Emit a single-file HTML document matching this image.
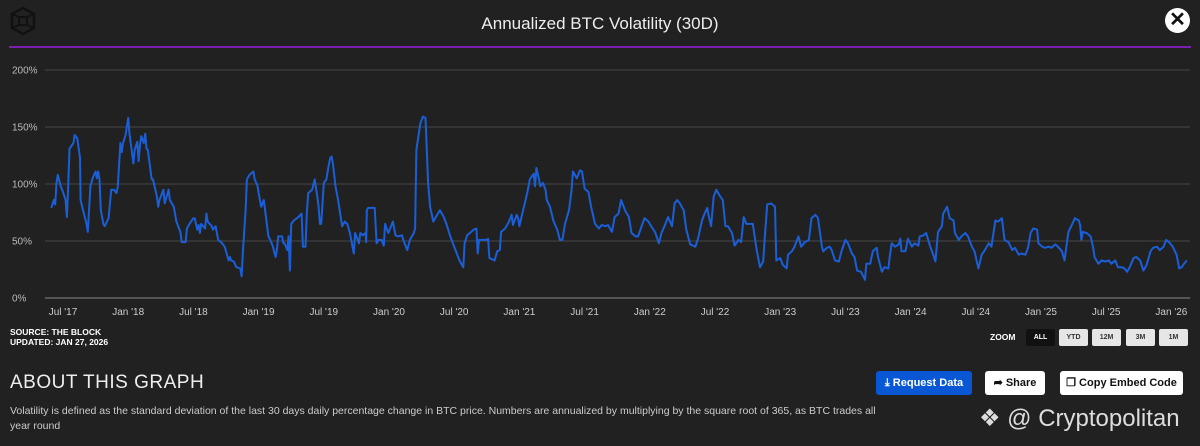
<!DOCTYPE html>
<html><head><meta charset="utf-8">
<style>
body{margin:0;width:1200px;height:446px;background:#212121;font-family:"Liberation Sans",sans-serif;overflow:hidden;position:relative;color:#fff}
.abs{position:absolute}
.zb{position:absolute;top:329px;height:17px;width:29px;background:#e6e6e6;color:#333;font-size:7px;font-weight:bold;text-align:center;line-height:17px;border-radius:2px}
.btn{position:absolute;top:371px;height:24px;border-radius:3px;font-size:11px;font-weight:bold;line-height:24px;text-align:center}
</style></head><body>
<svg class="abs" style="left:10px;top:6px" width="26" height="30" viewBox="0 0 26 30"><polygon points="13,2 24,8 24,22 13,28 2,22 2,8" fill="none" stroke="#111" stroke-width="2.5"/><rect x="9" y="11" width="8" height="8" fill="none" stroke="#111" stroke-width="2"/><line x1="2" y1="8" x2="9" y2="11" stroke="#111" stroke-width="2"/><line x1="24" y1="8" x2="17" y2="11" stroke="#111" stroke-width="2"/><line x1="2" y1="22" x2="9" y2="19" stroke="#111" stroke-width="2"/><line x1="24" y1="22" x2="17" y2="19" stroke="#111" stroke-width="2"/></svg>
<div class="abs" style="left:0;width:1200px;top:14px;text-align:center;font-size:17px;color:#eee">Annualized BTC Volatility (30D)</div>
<div class="abs" style="left:1165px;top:8px;width:25px;height:25px;border-radius:50%;background:#fff;color:#111;font-size:20px;font-weight:bold;text-align:center;line-height:25px">✕</div>
<div class="abs" style="left:9px;top:46px;width:1182px;height:2px;background:#7a1fb0"></div>
<svg id="chart" class="abs" style="left:0;top:0" width="1200" height="320"></svg>
<div class="abs" style="left:10px;top:327px;font-size:8.5px;font-weight:bold;line-height:10px;color:#fff">SOURCE: THE BLOCK<br>UPDATED: JAN 27, 2026</div>
<div class="abs" style="left:990px;top:332px;font-size:8.5px;font-weight:bold;color:#fff">ZOOM</div>
<div class="zb" style="left:1026px;background:#111;color:#fff">ALL</div>
<div class="zb" style="left:1059px">YTD</div>
<div class="zb" style="left:1092px">12M</div>
<div class="zb" style="left:1126px">3M</div>
<div class="zb" style="left:1159px">1M</div>
<div class="abs" style="left:10px;top:372px;font-size:19px;letter-spacing:0.5px;color:#eee">ABOUT THIS GRAPH</div>
<div class="btn" style="left:876px;width:96px;background:#0a57d6;color:#fff">⤓ Request Data</div>
<div class="btn" style="left:985px;width:60px;background:#fff;color:#111">➦ Share</div>
<div class="btn" style="left:1060px;width:123px;background:#fff;color:#111">❐ Copy Embed Code</div>
<div class="abs" style="left:10px;top:404px;width:880px;font-size:10.5px;line-height:14.5px;color:#ccc">Volatility is defined as the standard deviation of the last 30 days daily percentage change in BTC price. Numbers are annualized by multiplying by the square root of 365, as BTC trades all year round</div>
<div class="abs" style="left:979px;top:404px;font-size:24px;color:#ddd">❖ @ Cryptopolitan</div>
<script>
const dates=[2017.41,2017.43,2017.44,2017.45,2017.46,2017.48,2017.50,2017.52,2017.53,2017.54,2017.55,2017.58,2017.59,2017.61,2017.63,2017.635,2017.66,2017.68,2017.69,2017.71,2017.73,2017.75,2017.76,2017.77,2017.78,2017.79,2017.81,2017.82,2017.85,2017.87,2017.89,2017.91,2017.92,2017.94,2017.95,2017.96,2017.98,2018.00,2018.01,2018.03,2018.04,2018.05,2018.07,2018.08,2018.09,2018.10,2018.12,2018.13,2018.14,2018.15,2018.18,2018.19,2018.22,2018.23,2018.24,2018.27,2018.28,2018.31,2018.32,2018.35,2018.37,2018.40,2018.41,2018.44,2018.45,2018.47,2018.50,2018.51,2018.53,2018.54,2018.55,2018.56,2018.59,2018.60,2018.61,2018.64,2018.65,2018.67,2018.69,2018.72,2018.74,2018.77,2018.78,2018.79,2018.81,2018.83,2018.86,2018.87,2018.88,2018.90,2018.91,2018.93,2018.96,2018.97,2018.99,2019.01,2019.02,2019.04,2019.06,2019.075,2019.09,2019.11,2019.13,2019.14,2019.15,2019.18,2019.19,2019.20,2019.22,2019.23,2019.24,2019.25,2019.27,2019.305,2019.33,2019.34,2019.36,2019.37,2019.38,2019.41,2019.43,2019.45,2019.46,2019.47,2019.48,2019.50,2019.52,2019.535,2019.55,2019.56,2019.57,2019.59,2019.60,2019.61,2019.64,2019.66,2019.68,2019.70,2019.71,2019.73,2019.74,2019.77,2019.78,2019.80,2019.82,2019.825,2019.83,2019.84,2019.89,2019.905,2019.92,2019.944,2019.96,2019.97,2019.995,2020.03,2020.05,2020.07,2020.10,2020.11,2020.12,2020.14,2020.16,2020.19,2020.20,2020.21,2020.24,2020.26,2020.28,2020.29,2020.30,2020.315,2020.34,2020.37,2020.39,2020.42,2020.44,2020.47,2020.49,2020.52,2020.54,2020.57,2020.58,2020.60,2020.65,2020.67,2020.68,2020.69,2020.75,2020.76,2020.77,2020.81,2020.83,2020.85,2020.86,2020.89,2020.92,2020.94,2020.95,2020.98,2020.99,2021.00,2021.02,2021.06,2021.08,2021.11,2021.12,2021.13,2021.15,2021.16,2021.18,2021.20,2021.21,2021.235,2021.26,2021.29,2021.31,2021.33,2021.35,2021.38,2021.40,2021.41,2021.44,2021.465,2021.48,2021.50,2021.53,2021.55,2021.58,2021.61,2021.63,2021.66,2021.68,2021.71,2021.73,2021.76,2021.78,2021.81,2021.84,2021.86,2021.89,2021.91,2021.94,2021.96,2021.99,2022.01,2022.04,2022.07,2022.09,2022.12,2022.14,2022.17,2022.19,2022.21,2022.23,2022.26,2022.28,2022.31,2022.35,2022.37,2022.40,2022.42,2022.44,2022.45,2022.47,2022.49,2022.51,2022.54,2022.56,2022.58,2022.60,2022.63,2022.65,2022.68,2022.70,2022.72,2022.74,2022.77,2022.79,2022.82,2022.845,2022.87,2022.88,2022.90,2022.93,2022.96,2022.97,2023.00,2023.02,2023.05,2023.06,2023.09,2023.11,2023.14,2023.16,2023.19,2023.22,2023.24,2023.27,2023.29,2023.32,2023.33,2023.36,2023.38,2023.395,2023.42,2023.45,2023.47,2023.50,2023.52,2023.55,2023.57,2023.59,2023.62,2023.65,2023.66,2023.69,2023.71,2023.74,2023.75,2023.78,2023.80,2023.83,2023.84,2023.855,2023.88,2023.91,2023.92,2023.93,2023.96,2023.98,2024.01,2024.03,2024.06,2024.07,2024.10,2024.12,2024.15,2024.17,2024.19,2024.21,2024.24,2024.25,2024.28,2024.30,2024.33,2024.34,2024.37,2024.39,2024.42,2024.44,2024.47,2024.49,2024.52,2024.545,2024.57,2024.60,2024.62,2024.65,2024.67,2024.70,2024.72,2024.75,2024.78,2024.80,2024.83,2024.85,2024.88,2024.90,2024.92,2024.94,2024.97,2024.98,2025.01,2025.03,2025.06,2025.08,2025.11,2025.13,2025.16,2025.18,2025.21,2025.24,2025.26,2025.29,2025.30,2025.31,2025.32,2025.35,2025.38,2025.40,2025.41,2025.44,2025.465,2025.49,2025.52,2025.54,2025.57,2025.59,2025.62,2025.64,2025.66,2025.68,2025.71,2025.73,2025.76,2025.785,2025.81,2025.84,2025.86,2025.89,2025.91,2025.94,2025.96,2025.99,2026.01,2026.04,2026.06,2026.08,2026.09,2026.12];
const vols=[79,86,82,101,108,99,93,86,71,98,131,136,143,140,123,86,74,65,58,98,106,111,105,111,104,77,65,63,70,95,95,92,98,136,128,136,143,158,144,127,118,130,137,120,133,142,136,144,131,130,104,104,89,80,86,95,83,95,86,80,67,58,49,49,61,65,70,70,60,64,57,65,61,74,67,63,60,63,51,48,45,33,36,33,32,27,26,19,42,77,104,108,111,104,99,86,80,86,68,54,51,45,36,42,54,54,48,48,42,54,24,65,68,71,74,45,45,74,92,95,104,89,80,65,65,101,104,115,123,124,118,98,92,86,63,67,65,57,51,39,57,48,57,55,57,49,77,79,79,48,51,51,46,65,57,67,55,54,55,51,48,42,51,57,61,130,153,159,158,130,101,80,67,73,77,71,65,54,48,39,33,27,48,55,60,61,39,51,51,52,35,33,41,42,58,61,67,73,64,73,70,63,73,92,104,109,98,114,104,98,101,95,86,80,68,60,51,51,65,77,95,111,105,112,111,96,93,80,65,61,64,63,64,58,71,74,86,77,71,57,54,54,64,70,67,63,58,48,57,65,71,63,83,86,83,77,60,47,45,52,68,74,79,73,63,89,95,89,86,63,63,57,46,51,49,71,65,65,65,42,27,32,51,82,83,80,33,35,29,26,38,41,45,54,45,49,51,70,73,70,45,41,44,45,42,33,32,41,51,48,39,36,24,23,16,30,30,41,44,36,23,27,26,36,48,45,47,52,41,41,52,45,48,46,54,55,57,45,39,32,58,63,74,80,70,68,57,51,54,57,54,45,41,26,38,42,48,45,68,67,70,51,49,42,44,38,39,38,44,57,61,60,48,45,44,45,44,47,45,41,33,58,65,70,68,64,51,58,57,54,44,36,30,33,32,33,30,33,27,27,26,23,27,35,36,33,24,29,41,44,45,42,45,51,48,45,38,26,27,29,33];
const yTicks=[0,50,100,150,200];
const yTickLabels=["0%","50%","100%","150%","200%"];
const xTicks=[2017.5,2018,2018.5,2019,2019.5,2020,2020.5,2021,2021.5,2022,2022.5,2023,2023.5,2024,2024.5,2025,2025.5,2026];
const xTickLabels=["Jul '17","Jan '18","Jul '18","Jan '19","Jul '19","Jan '20","Jul '20","Jan '21","Jul '21","Jan '22","Jul '22","Jan '23","Jul '23","Jan '24","Jul '24","Jan '25","Jul '25","Jan '26"];
const svg=document.getElementById('chart');
const NS='http://www.w3.org/2000/svg';
const xS=d=>63+(d-2017.5)*130.4;
const yS=v=>298-v*1.14;
function mk(t,a){const e=document.createElementNS(NS,t);for(const k in a)e.setAttribute(k,a[k]);svg.appendChild(e);return e;}
yTicks.forEach((v,i)=>{
  const l=mk('line',{x1:45,x2:1190,y1:yS(v),y2:yS(v),stroke:v===0?'#888':'#484848','stroke-width':1});
  
  
  const t=mk('text',{x:12,y:yS(v)+3.5,fill:'#bbb','font-size':'10','font-family':'Liberation Sans, sans-serif'});
  t.textContent=yTickLabels[i];
  
  
});
xTicks.forEach((d,i)=>{
  const t=mk('text',{x:xS(d),y:315,fill:'#ccc','font-size':'10','text-anchor':'middle','font-family':'Liberation Sans, sans-serif'});
  t.textContent=xTickLabels[i];
  
  
});
const p=mk('path',{d:dates.map((d,i)=>(i?'L':'M')+xS(d).toFixed(1)+','+yS(vols[i]).toFixed(1)).join(''),fill:'none',stroke:'#1a5fd8','stroke-width':2,'stroke-linejoin':'round'});


</script>
</body></html>
